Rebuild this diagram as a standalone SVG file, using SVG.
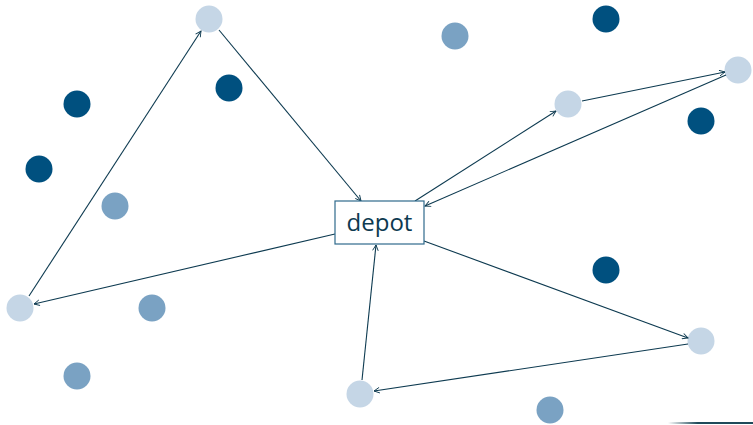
<svg xmlns="http://www.w3.org/2000/svg" width="753" height="425" viewBox="0 0 753 425">
  <style>
    .light { fill: #c5d6e6; }
    .mid { fill: #7aa2c3; }
    .dark { fill: #00507f; }
    .edge { stroke: #0d3a50; stroke-width: 1.1; fill: none; marker-end: url(#arr); }
    .depot-box { fill: #ffffff; stroke: #2f6a8c; stroke-width: 1.2; }
    .depot-label { font-family: "Open Sans", "DejaVu Sans", sans-serif; font-size: 24px; fill: #0d3a50; }
  </style>
  <defs>
    <marker id="arr" viewBox="0 0 10 10" refX="9" refY="5" markerWidth="7" markerHeight="7" orient="auto" markerUnits="userSpaceOnUse">
      <path d="M1,1 L9,5 L1,9" fill="none" stroke="#0d3a50" stroke-width="1.3"/>
    </marker>
    <linearGradient id="fade" x1="0" y1="0" x2="1" y2="0">
      <stop offset="0" stop-color="#1f4a5a" stop-opacity="0"/>
      <stop offset="0.35" stop-color="#1f4a5a" stop-opacity="1"/>
      <stop offset="1" stop-color="#1f4a5a" stop-opacity="1"/>
    </linearGradient>
  </defs>

  <rect width="753" height="425" fill="#ffffff"/>

  <!-- customers not on the route -->
  <g id="dark-customers">
    <circle id="d1" class="dark" cx="606" cy="19" r="13.5"/>
    <circle id="d2" class="dark" cx="229" cy="88" r="13.5"/>
    <circle id="d3" class="dark" cx="77" cy="104" r="13.5"/>
    <circle id="d4" class="dark" cx="39" cy="169" r="13.5"/>
    <circle id="d5" class="dark" cx="701" cy="121" r="13.5"/>
    <circle id="d6" class="dark" cx="606" cy="270" r="13.5"/>
  </g>
  <g id="mid-customers">
    <circle id="m1" class="mid" cx="455" cy="36" r="13.5"/>
    <circle id="m2" class="mid" cx="115" cy="206" r="13.5"/>
    <circle id="m3" class="mid" cx="152" cy="308" r="13.5"/>
    <circle id="m4" class="mid" cx="77" cy="376" r="13.5"/>
    <circle id="m5" class="mid" cx="550" cy="410" r="13.5"/>
  </g>

  <!-- visited customers -->
  <g id="route-customers">
    <circle id="n-top" class="light" cx="209" cy="19" r="13.5"/>
    <circle id="n-ne1" class="light" cx="568" cy="104" r="13.5"/>
    <circle id="n-ne2" class="light" cx="738" cy="70" r="13.5"/>
    <circle id="n-west" class="light" cx="20" cy="308" r="13.5"/>
    <circle id="n-se" class="light" cx="701" cy="341" r="13.5"/>
    <circle id="n-south" class="light" cx="360" cy="394" r="13.5"/>
  </g>

  <!-- route arcs -->
  <g id="connectors">
    <line class="edge" x1="335" y1="234" x2="34" y2="304"/>
    <line class="edge" x1="29" y1="296" x2="201" y2="31"/>
    <line class="edge" x1="219" y1="30" x2="361" y2="201"/>
    <line class="edge" x1="415" y1="201" x2="556" y2="111"/>
    <line class="edge" x1="582" y1="101" x2="725" y2="72"/>
    <line class="edge" x1="726" y1="75" x2="425" y2="206"/>
    <line class="edge" x1="424" y1="241" x2="688" y2="338"/>
    <line class="edge" x1="688" y1="344" x2="374" y2="391"/>
    <line class="edge" x1="362" y1="380" x2="376" y2="245"/>
  </g>

  <g id="depot">
    <rect class="depot-box" x="335" y="201" width="89" height="43"/>
    <text class="depot-label" x="379.5" y="230.5" text-anchor="middle">depot</text>
  </g>

  <!-- edge strip at the bottom -->
  <rect x="668" y="422" width="85" height="2" fill="url(#fade)"/>
</svg>
